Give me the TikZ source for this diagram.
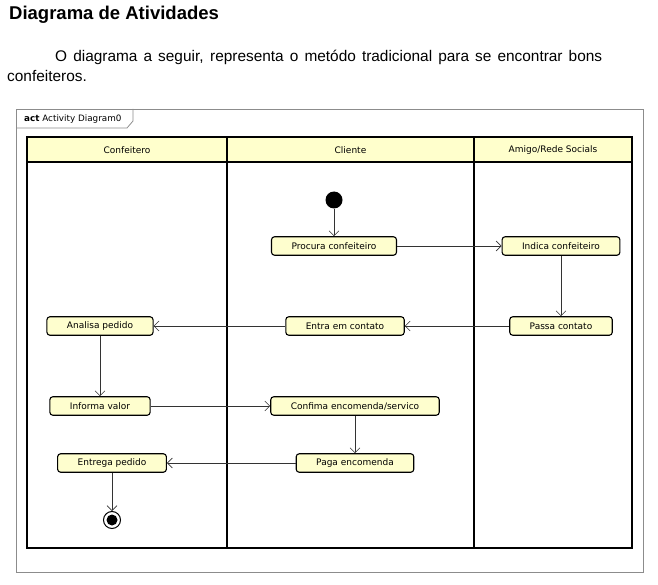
\documentclass[tikz,border=0pt]{standalone}
\usepackage{fontspec}
\setmainfont{Liberation Sans}
\newfontfamily\umlfont{DejaVu Sans}
\usetikzlibrary{arrows.meta}
\definecolor{actfill}{HTML}{FEFECE}
\definecolor{lanefill}{HTML}{FFFFCC}
\definecolor{framegray}{HTML}{8C8C8C}
\tikzset{
	action/.style={draw,line width=1.1pt,rounded corners=3pt,fill=actfill,font=\umlfont\fontsize{9}{10}\selectfont,inner xsep=20pt,inner ysep=0pt,minimum height=18.5pt},
	lanehead/.style={font=\umlfont\fontsize{9}{10}\selectfont,inner sep=0pt},
	flow/.style={draw=black!80,line width=0.6pt,-{Straight Barb[length=5pt,width=10pt]}},
	lane/.style={line width=1.1pt},
	framebox/.style={framegray,line width=0.8pt},
}
\begin{document}
\begin{tikzpicture}[x=1pt,y=-1pt]
	\useasboundingbox (0,0) rectangle (658,585);
	\node[anchor=base west,inner sep=0pt,font=\bfseries\fontsize{18.5}{22}\selectfont] (titulo) at (9,19.5) {Diagrama de Atividades};
	\node[anchor=base west,inner sep=0pt,font=\fontsize{15.4}{20}\selectfont] (linha1) at (55,62) {\makebox[547pt][s]{O diagrama a seguir, representa o metódo tradicional para se encontrar bons}};
	\node[anchor=base west,inner sep=0pt,font=\fontsize{15.4}{20}\selectfont] (linha2) at (7,82) {confeiteros.};
	\draw[framebox](16,109)rectangle(643,572);
	\draw[framebox](16,128)--(127,128)--(133,121)--(133,109);
	\node[anchor=west,inner sep=0pt,font=\umlfont\fontsize{8.8}{10}\selectfont] (tab) at (24,119) {\textbf{act} Activity Diagram0};
	\fill[lanefill](27,137)rectangle(632,162);
	\draw[lane](27,137)rectangle(632,548);
	\draw[lane](27,162)--(632,162);
	\draw[lane](227,137)--(227,548);
	\draw[lane](474,137)--(474,548);
	\node[lanehead] (confeitero) at (127,150) {Confeitero};
	\node[lanehead] (cliente) at (350.5,150) {Cliente};
	\node[lanehead] (amigo) at (553,150) {Amigo/Rede Socials};
	\node[circle,fill=black,minimum size=17pt,inner sep=0pt] (inicio) at (334,200) {};
	\node[action] (procura) at (334,246) {Procura confeiteiro};
	\node[action] (indica) at (561,246) {Indica confeiteiro};
	\node[action] (passa) at (561,326) {Passa contato};
	\node[action] (entra) at (345,326) {Entra em contato};
	\node[action] (analisa) at (100,326) {Analisa pedido};
	\node[action] (informa) at (100,406) {Informa valor};
	\node[action] (confima) at (355,406) {Confima encomenda/servico};
	\node[action] (paga) at (355,463) {Paga encomenda};
	\node[action] (entrega) at (112,463) {Entrega pedido};
	\node[circle,draw,line width=1pt,minimum size=17pt,inner sep=0pt] (fim) at (112,520) {};
	\fill(fim.center)circle(5.5pt);
	\draw[flow](inicio)--(procura);
	\draw[flow](procura)--(indica);
	\draw[flow](indica)--(passa);
	\draw[flow](passa)--(entra);
	\draw[flow](entra)--(analisa);
	\draw[flow](analisa)--(informa);
	\draw[flow](informa)--(confima);
	\draw[flow](confima)--(paga);
	\draw[flow](paga)--(entrega);
	\draw[flow](entrega)--(fim);
\end{tikzpicture}
\end{document}
